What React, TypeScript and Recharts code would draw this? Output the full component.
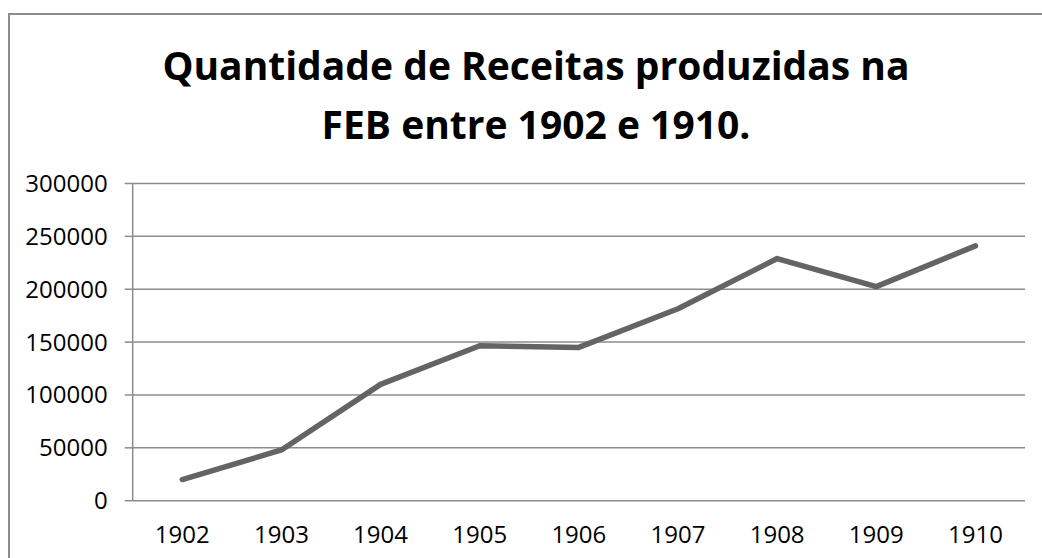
import { LineChart, Line, XAxis, YAxis, CartesianGrid } from "recharts";

const years = [1902, 1903, 1904, 1905, 1906, 1907, 1908, 1909, 1910];
const receitas = [20000, 48000, 110000, 146500, 145000, 181500, 229000, 202500, 241000];
const yTicks = [0, 50000, 100000, 150000, 200000, 250000, 300000];
const titleLines = ["Quantidade de Receitas produzidas na", "FEB entre 1902 e 1910."];

const data = years.map((year, i) => ({ year, receitas: receitas[i] }));
// tick marks sit between categories, like in the original spreadsheet chart
const boundaries = [...years.map((y) => y - 0.5), years[years.length - 1] + 0.5];
const domain: [number, number] = [boundaries[0], boundaries[boundaries.length - 1]];

const gridColor = "#8c8c8c";
const font = "'Open Sans', sans-serif";

export default function App() {
  return (
    <div style={{ position: "relative", width: 1042, height: 558, overflow: "hidden", fontFamily: font }}>
      <style>{"html,body{margin:0;padding:0;overflow:hidden;background:#fff}"}</style>
      <div
        style={{
          position: "absolute",
          left: 8,
          top: 13,
          width: 1100,
          height: 600,
          borderTop: `2px solid ${gridColor}`,
          borderLeft: `2px solid ${gridColor}`,
          boxSizing: "border-box",
        }}
      />
      <svg width={1042} height={160} style={{ position: "absolute", left: 0, top: 0 }}>
        {titleLines.map((t, i) => (
          <text
            key={t}
            x={536}
            y={80 + i * 59}
            textAnchor="middle"
            fontFamily={font}
            fontWeight="bold"
            fontSize={39}
            fill="#000"
          >
            {t}
          </text>
        ))}
      </svg>
      <div style={{ position: "absolute", left: 0, top: 0 }}>
        <LineChart width={1042} height={558} data={data} margin={{ top: 183.5, right: 17, bottom: 12.3, left: 0 }}>
          <CartesianGrid vertical={false} stroke={gridColor} strokeWidth={1.5} />
          <XAxis
            xAxisId="labels"
            dataKey="year"
            type="number"
            domain={domain}
            ticks={years}
            axisLine={false}
            tickLine={false}
            tickSize={8}
            tickMargin={17}
            height={45}
            interval={0}
            tick={{ fill: "#000", fontSize: 24, fontFamily: font }}
          />
          <XAxis
            xAxisId="marks"
            dataKey="year"
            type="number"
            domain={domain}
            ticks={boundaries}
            interval={0}
            tickFormatter={() => ""}
            stroke={gridColor}
            strokeWidth={1.5}
            tickSize={8}
            height={0}
          />
          <YAxis
            domain={[0, 300000]}
            ticks={yTicks}
            width={132.7}
            interval={0}
            stroke={gridColor}
            strokeWidth={1.5}
            tickSize={8}
            tickMargin={17}
            tick={{ fill: "#000", fontSize: 24, fontFamily: font }}
          />
          <Line
            xAxisId="labels"
            dataKey="receitas"
            stroke="#646464"
            strokeWidth={5.5}
            strokeLinecap="round"
            strokeLinejoin="round"
            dot={false}
            isAnimationActive={false}
          />
        </LineChart>
      </div>
    </div>
  );
}
